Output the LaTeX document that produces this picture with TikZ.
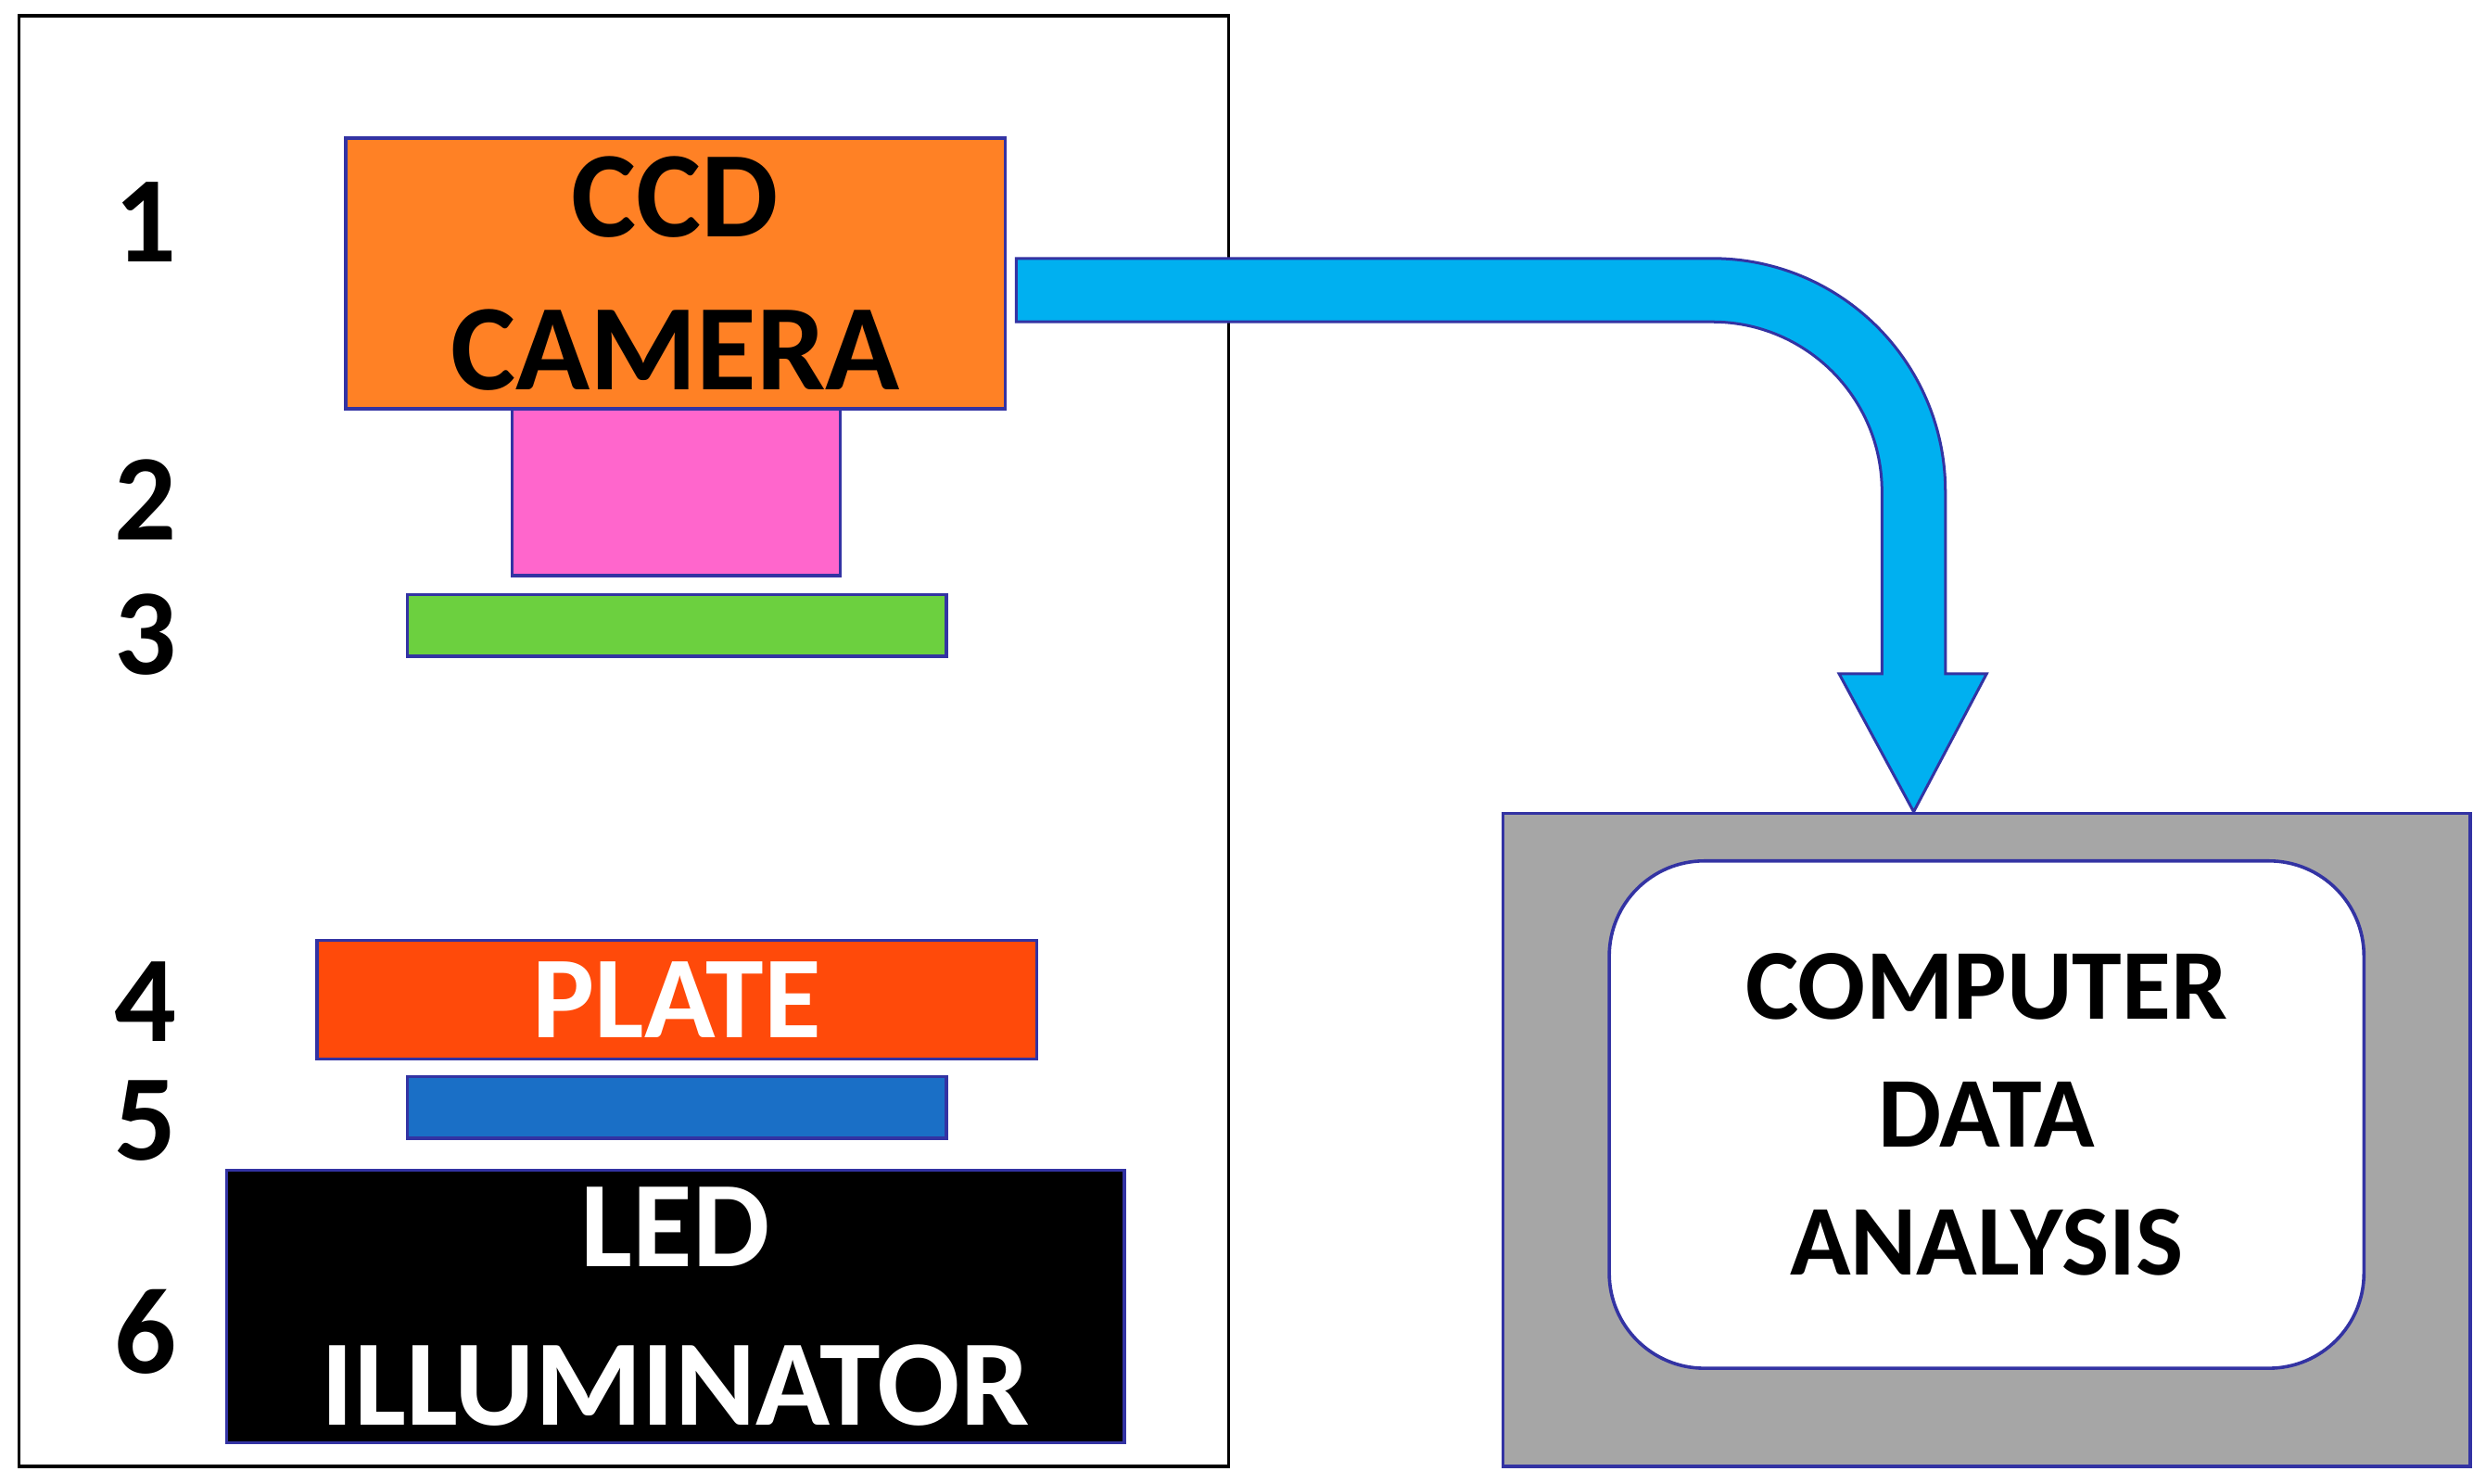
\documentclass[tikz,border=0pt]{standalone}
\usepackage{fontspec}
\setmainfont{Carlito}
\begin{document}
\begin{tikzpicture}[x=0.02cm,y=-0.02cm,
  edge/.style={draw=blue!55!black!80, line width=1.2pt},
  big/.style={font=\bfseries\fontsize{44}{55}\selectfont, align=center},
  num/.style={font=\bfseries\fontsize{44}{50}\selectfont}]
\useasboundingbox (0,0) rectangle (1568,936);
\definecolor{ccd}{HTML}{FF8125}
\definecolor{pink}{HTML}{FF66CC}
\definecolor{grn}{HTML}{6CD03F}
\definecolor{plate}{HTML}{FF4A0A}
\definecolor{blu}{HTML}{1A6FC6}
\definecolor{arr}{HTML}{00B0F0}
\definecolor{gry}{HTML}{A6A6A6}
\draw[line width=1.2pt] (12,10) rectangle (775,925);
\node[edge,fill=ccd,minimum width=416*0.02cm,minimum height=171*0.02cm,big,inner sep=0] (ccd) at (426,172.5) {CCD\\CAMERA};
\node[edge,fill=pink,minimum width=207*0.02cm,minimum height=105*0.02cm,inner sep=0] (lens) at (426.5,310.5) {};
\node[edge,fill=grn,minimum width=340*0.02cm,minimum height=39*0.02cm,inner sep=0] (filt) at (427,394.5) {};
\node[edge,fill=plate,minimum width=454*0.02cm,minimum height=75*0.02cm,inner sep=0,big,text=white,font=\bfseries\fontsize{42}{50}\selectfont] (plate) at (427,630.5) {PLATE};
\node[edge,fill=blu,minimum width=340*0.02cm,minimum height=39*0.02cm,inner sep=0] (diff) at (427,698.5) {};
\node[edge,fill=black,minimum width=566*0.02cm,minimum height=172*0.02cm,inner sep=0,big,text=white,font=\bfseries\fontsize{44}{57}\selectfont] (led) at (426,824) {LED\\ILLUMINATOR};
\node[num] (n1) at (92,140) {1};
\node[num] (n2) at (92,315) {2};
\node[num] (n3) at (92,400) {3};
\node[num] (n4) at (92,632) {4};
\node[num] (n5) at (92,707) {5};
\node[num] (n6) at (92,840) {6};
\node[edge,fill=gry,minimum width=610*0.02cm,minimum height=412*0.02cm,inner sep=0] (comp) at (1253,719) {};
\node[edge,fill=white,rounded corners=1.2cm,minimum width=476*0.02cm,minimum height=320*0.02cm,inner sep=0,align=center,font=\bfseries\fontsize{36}{46}\selectfont] (cda) at (1253,703) {COMPUTER\\DATA\\ANALYSIS};
\filldraw[fill=arr,draw=blue!55!black!80,line width=1pt]
  (641,163) -- (1080,163) arc[start angle=-90,end angle=0,radius=147]
  -- (1227,425) -- (1253,425) -- (1207,512) -- (1160,425) -- (1187,425)
  -- (1187,310) arc[start angle=0,end angle=-90,radius=107] -- (641,203) -- cycle;
\end{tikzpicture}
\end{document}
